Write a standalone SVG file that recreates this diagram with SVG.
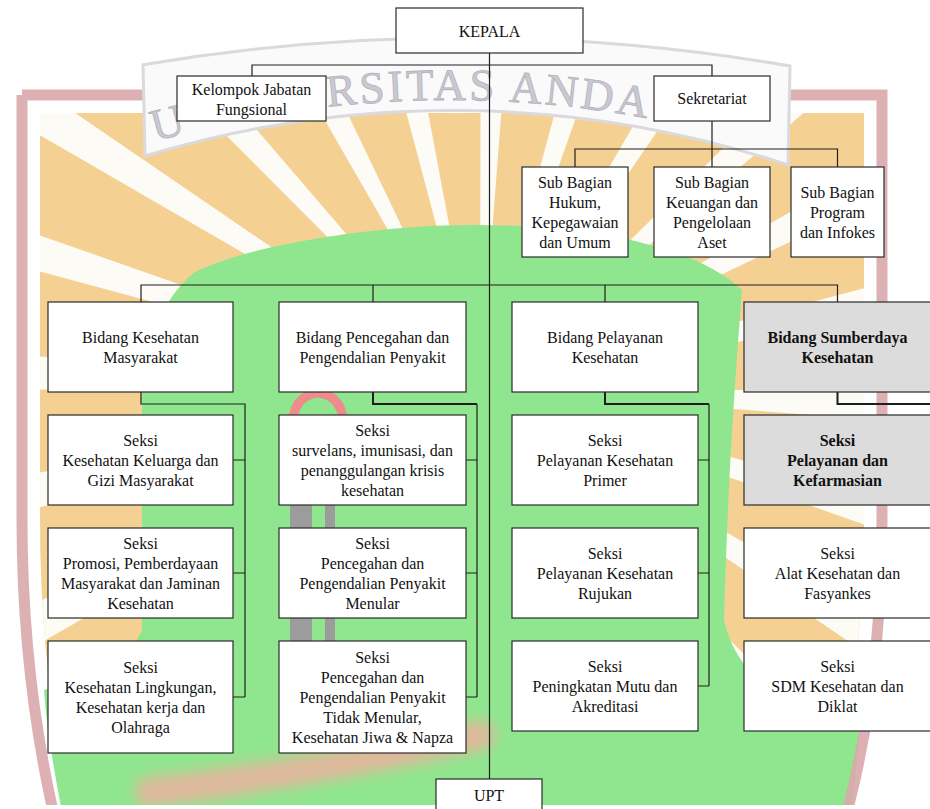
<svg xmlns="http://www.w3.org/2000/svg" width="930" height="809" viewBox="0 0 930 809">
<style>
.box{fill:#ffffff;stroke:#2a2a2a;stroke-width:1.2}
.gray{fill:#dcdcdc}
.t{font-family:"Liberation Serif","Times New Roman",serif;font-size:16px;fill:#111111;text-anchor:middle}
.b{font-weight:bold}
.ln{stroke:#1e1e1e;stroke-width:1.2;fill:none}
.bl{stroke-width:2}
.wm{font-family:"Liberation Serif","Times New Roman",serif;font-size:45px;fill:#c9c9d1;stroke:#b3b3bb;stroke-width:0.8;letter-spacing:3px}
</style>
<defs>
<clipPath id="inner">
<path d="M40 113 L864 113 L864 520 C864 620 852 720 828 812 L72 812 C50 720 40 620 40 520 Z"/>
</clipPath>
<clipPath id="page"><rect x="0" y="0" width="930" height="805"/></clipPath>
<filter id="soft" x="-20%" y="-50%" width="140%" height="200%"><feGaussianBlur stdDeviation="7"/></filter>
<path id="arc" d="M100 158.8 A1071 1071 0 0 1 800 158.8"/>
</defs>
<rect width="930" height="809" fill="#ffffff"/>
<g id="watermark" clip-path="url(#page)">
<rect x="0" y="0" width="930" height="809" fill="#f4d193" clip-path="url(#inner)"/>
<circle cx="480" cy="390" r="400" fill="none" stroke="#fdfbf6" stroke-width="800" stroke-dasharray="30 74.72" clip-path="url(#inner)"/>
<path d="M195 272 C240 250 330 232 430 226 C560 220 690 240 742 290 C735 380 728 480 724 620 C740 690 800 705 860 730 L852 812 L62 812 C52 760 46 720 44 690 C90 680 130 660 142 630 L142 400 C145 340 165 295 195 272 Z" fill="#90e68e"/>
<path d="M292 430 Q292 395 318 393 Q344 395 344 430" fill="none" stroke="#ec8c8c" stroke-width="9"/>
<rect x="290" y="500" width="22" height="150" fill="#9c9c9c"/>
<rect x="325" y="500" width="10" height="150" fill="#9c9c9c"/>
<path d="M150 792 Q320 772 480 735" fill="none" stroke="#f2ad9f" stroke-width="30" stroke-linecap="round" filter="url(#soft)" opacity="0.8"/>
<path d="M22 95 L882 95 L882 520 C882 620 872 720 845 820 M22 95 L22 520 C22 620 32 720 55 820" fill="none" stroke="#d9a8ab" stroke-width="11" opacity="0.9"/>
<path d="M143 64.7 A1922 1922 0 0 1 790 66 L788 165 A1060 1060 0 0 0 145 156 Z" fill="#fafafa" stroke="#dadade" stroke-width="3"/>
<text class="wm"><textPath href="#arc" startOffset="58">U</textPath></text>
<text class="wm"><textPath href="#arc" startOffset="234">RSITAS ANDA</textPath></text>
</g>
<g id="connectors">
<path class="ln" d="M489.5 53 V779"/>
<path class="ln" d="M252 76 V65 H712 V76"/>
<path class="ln" d="M712 121 V167 M575 167 V149 H837.5 V167"/>
<path class="ln" d="M141 302 V285 H837.5 V302 M373 285 V302 M605 285 V302"/>
<path class="ln" d="M141 392 V404 H245 V697 M233 460 H245 M233 573 H245 M233 697 H245"/>
<path class="ln bl" d="M373 392 V404 H477"/>
<path class="ln" d="M477 404 V697 M466 460 H477 M466 573 H477 M466 697 H477"/>
<path class="ln bl" d="M605 392 V404 H709"/>
<path class="ln" d="M709 404 V686 M698 460 H709 M698 573 H709 M698 686 H709"/>
<path class="ln bl" d="M837.5 392 V404 H931"/>
</g>
<g id="kepala"><rect class="box" x="396" y="8" width="187" height="45"/><text class="t" x="489.5" y="36.5">KEPALA</text></g>
<g id="kelompok-jabatan-fungsional"><rect class="box" x="177" y="76" width="149" height="45"/><text class="t"><tspan x="251.5" y="94.5">Kelompok Jabatan</tspan><tspan x="251.5" y="114.5">Fungsional</tspan></text></g>
<g id="sekretariat"><rect class="box" x="654" y="76" width="116" height="45"/><text class="t" x="712" y="104">Sekretariat</text></g>
<g id="sub-hukum"><rect class="box" x="522" y="167" width="106" height="90"/><text class="t"><tspan x="575" y="187.5">Sub Bagian</tspan><tspan x="575" y="207.5">Hukum,</tspan><tspan x="575" y="227.5">Kepegawaian</tspan><tspan x="575" y="247.5">dan Umum</tspan></text></g>
<g id="sub-keuangan"><rect class="box" x="654" y="167" width="116" height="90"/><text class="t"><tspan x="712" y="187.5">Sub Bagian</tspan><tspan x="712" y="207.5">Keuangan dan</tspan><tspan x="712" y="227.5">Pengelolaan</tspan><tspan x="712" y="247.5">Aset</tspan></text></g>
<g id="sub-program"><rect class="box" x="791" y="167" width="93" height="90"/><text class="t"><tspan x="837.5" y="197.5">Sub Bagian</tspan><tspan x="837.5" y="217.5">Program</tspan><tspan x="837.5" y="237.5">dan Infokes</tspan></text></g>
<g id="bidang-kesmas"><rect class="box" x="48" y="302" width="185" height="90"/><text class="t"><tspan x="140.5" y="342.5">Bidang Kesehatan</tspan><tspan x="140.5" y="362.5">Masyarakat</tspan></text></g>
<g id="bidang-p2p"><rect class="box" x="279" y="302" width="187" height="90"/><text class="t"><tspan x="372.5" y="342.5">Bidang Pencegahan dan</tspan><tspan x="372.5" y="362.5">Pengendalian Penyakit</tspan></text></g>
<g id="bidang-yankes"><rect class="box" x="512" y="302" width="186" height="90"/><text class="t"><tspan x="605" y="342.5">Bidang Pelayanan</tspan><tspan x="605" y="362.5">Kesehatan</tspan></text></g>
<g id="bidang-sdk"><rect class="box gray" x="744" y="302" width="187" height="90"/><text class="t b"><tspan x="837.5" y="342.5">Bidang Sumberdaya</tspan><tspan x="837.5" y="362.5">Kesehatan</tspan></text></g>
<g id="seksi-kesga"><rect class="box" x="48" y="415" width="185" height="90"/><text class="t"><tspan x="140.5" y="445.5">Seksi</tspan><tspan x="140.5" y="465.5">Kesehatan Keluarga dan</tspan><tspan x="140.5" y="485.5">Gizi Masyarakat</tspan></text></g>
<g id="seksi-promkes"><rect class="box" x="48" y="528" width="185" height="90"/><text class="t"><tspan x="140.5" y="548.5">Seksi</tspan><tspan x="140.5" y="568.5">Promosi, Pemberdayaan</tspan><tspan x="140.5" y="588.5">Masyarakat dan Jaminan</tspan><tspan x="140.5" y="608.5">Kesehatan</tspan></text></g>
<g id="seksi-kesling"><rect class="box" x="48" y="641" width="185" height="112"/><text class="t"><tspan x="140.5" y="672.5">Seksi</tspan><tspan x="140.5" y="692.5">Kesehatan Lingkungan,</tspan><tspan x="140.5" y="712.5">Kesehatan kerja dan</tspan><tspan x="140.5" y="732.5">Olahraga</tspan></text></g>
<g id="seksi-surveilans"><rect class="box" x="279" y="415" width="187" height="90"/><text class="t"><tspan x="372.5" y="435.5">Seksi</tspan><tspan x="372.5" y="455.5">survelans, imunisasi, dan</tspan><tspan x="372.5" y="475.5">penanggulangan krisis</tspan><tspan x="372.5" y="495.5">kesehatan</tspan></text></g>
<g id="seksi-p2pm"><rect class="box" x="279" y="528" width="187" height="90"/><text class="t"><tspan x="372.5" y="548.5">Seksi</tspan><tspan x="372.5" y="568.5">Pencegahan dan</tspan><tspan x="372.5" y="588.5">Pengendalian Penyakit</tspan><tspan x="372.5" y="608.5">Menular</tspan></text></g>
<g id="seksi-p2ptm"><rect class="box" x="279" y="641" width="187" height="112"/><text class="t"><tspan x="372.5" y="662.5">Seksi</tspan><tspan x="372.5" y="682.5">Pencegahan dan</tspan><tspan x="372.5" y="702.5">Pengendalian Penyakit</tspan><tspan x="372.5" y="722.5">Tidak Menular,</tspan><tspan x="372.5" y="742.5">Kesehatan Jiwa &amp; Napza</tspan></text></g>
<g id="seksi-primer"><rect class="box" x="512" y="415" width="186" height="90"/><text class="t"><tspan x="605" y="445.5">Seksi</tspan><tspan x="605" y="465.5">Pelayanan Kesehatan</tspan><tspan x="605" y="485.5">Primer</tspan></text></g>
<g id="seksi-rujukan"><rect class="box" x="512" y="528" width="186" height="90"/><text class="t"><tspan x="605" y="558.5">Seksi</tspan><tspan x="605" y="578.5">Pelayanan Kesehatan</tspan><tspan x="605" y="598.5">Rujukan</tspan></text></g>
<g id="seksi-mutu"><rect class="box" x="512" y="641" width="186" height="90"/><text class="t"><tspan x="605" y="671.5">Seksi</tspan><tspan x="605" y="691.5">Peningkatan Mutu dan</tspan><tspan x="605" y="711.5">Akreditasi</tspan></text></g>
<g id="seksi-farmasi"><rect class="box gray" x="744" y="415" width="187" height="90"/><text class="t b"><tspan x="837.5" y="445.5">Seksi</tspan><tspan x="837.5" y="465.5">Pelayanan dan</tspan><tspan x="837.5" y="485.5">Kefarmasian</tspan></text></g>
<g id="seksi-alkes"><rect class="box" x="744" y="528" width="187" height="90"/><text class="t"><tspan x="837.5" y="558.5">Seksi</tspan><tspan x="837.5" y="578.5">Alat Kesehatan dan</tspan><tspan x="837.5" y="598.5">Fasyankes</tspan></text></g>
<g id="seksi-sdm"><rect class="box" x="744" y="641" width="187" height="90"/><text class="t"><tspan x="837.5" y="671.5">Seksi</tspan><tspan x="837.5" y="691.5">SDM Kesehatan dan</tspan><tspan x="837.5" y="711.5">Diklat</tspan></text></g>
<g id="upt"><rect class="box" x="436" y="779" width="106" height="34"/><text class="t" x="489" y="800.5">UPT</text></g>
</svg>
